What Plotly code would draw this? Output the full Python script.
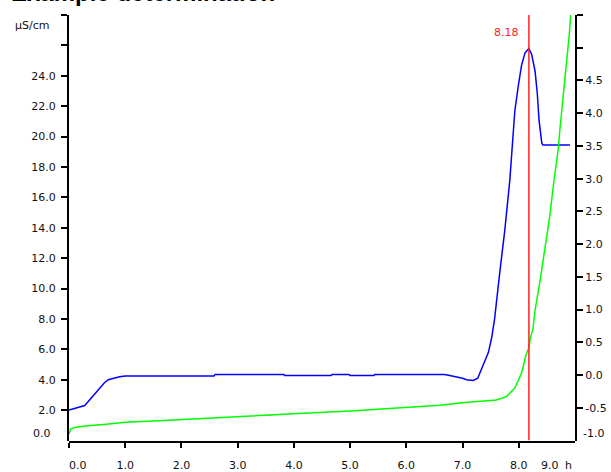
import plotly.graph_objects as go

# ---- data -------------------------------------------------------------
# conductivity (µS/cm, left axis) over time (h)
cond_t = [0.0, 0.1, 0.2, 0.28, 0.35, 0.42, 0.49, 0.56, 0.63, 0.7, 0.78, 0.9, 1.0,
          2.58, 2.6, 3.82, 3.84, 4.66, 4.68, 4.98, 5.0, 5.42, 5.44, 6.68, 6.75,
          6.9, 7.0, 7.07, 7.19, 7.27, 7.37, 7.46, 7.52, 7.57, 7.66, 7.75, 7.84,
          7.88, 7.93, 7.99, 8.05, 8.11, 8.18, 8.23, 8.29, 8.33, 8.36, 8.41, 8.43,
          8.91]
cond_v = [2.0, 2.1, 2.2, 2.3, 2.6, 2.9, 3.2, 3.5, 3.8, 4.0, 4.1, 4.2, 4.25,
          4.25, 4.35, 4.35, 4.27, 4.27, 4.35, 4.35, 4.28, 4.28, 4.35, 4.35, 4.3,
          4.2, 4.1, 4.0, 3.95, 4.1, 5.0, 5.8, 6.8, 8.0, 11.0, 13.8, 17.1,
          19.3, 21.7, 23.3, 24.7, 25.5, 25.8, 25.4, 24.3, 22.8, 21.1, 19.55, 19.45,
          19.45]

# second signal (right axis)
sig_t = [0.0, 0.03, 0.1, 0.28, 0.67, 1.0, 1.6, 2.0, 3.0, 4.0, 5.0, 6.0, 6.6,
         7.04, 7.19, 7.6, 7.78, 7.93, 8.05, 8.13, 8.18, 8.21, 8.25, 8.29, 8.38,
         8.46, 8.55, 8.62, 8.70, 8.73, 8.79, 8.85, 8.90, 8.93]
sig_v = [-0.9, -0.82, -0.8, -0.78, -0.75, -0.72, -0.70, -0.68, -0.64, -0.59,
         -0.55, -0.49, -0.46, -0.42, -0.41, -0.38, -0.33, -0.20, 0.03, 0.31,
         0.42, 0.58, 0.69, 0.99, 1.45, 1.91, 2.42, 2.93, 3.44, 3.74, 4.25, 4.76,
         5.22, 5.6]

endpoint = 8.18

x_ticks = [0, 1, 2, 3, 4, 5, 6, 7, 8, 9]
x_labels = ["0.0", "1.0", "2.0", "3.0", "4.0", "5.0", "6.0", "7.0", "8.0", "9.0"]
left_ticks = [0, 2, 4, 6, 8, 10, 12, 14, 16, 18, 20, 22, 24, 26, 28]
left_labels = ["0.0", "2.0", "4.0", "6.0", "8.0", "10.0", "12.0", "14.0",
               "16.0", "18.0", "20.0", "22.0", "24.0", "", ""]
right_ticks = [-1.0, -0.5, 0.0, 0.5, 1.0, 1.5, 2.0, 2.5, 3.0, 3.5, 4.0, 4.5, 5.0, 5.5]
right_labels = ["-1.0", "-0.5", "0.0", "0.5", "1.0", "1.5", "2.0", "2.5",
                "3.0", "3.5", "4.0", "4.5", "", ""]

# ---- layout geometry ----------------------------------------------------
W, H = 611, 472
ML, MR, MT, MB = 69, 36, 15, 30
PW, PH = W - ML - MR, H - MT - MB


def px(x):
    return (x - ML) / PW


def py(y):
    return (H - MB - y) / PH


FONT = dict(family="DejaVu Sans", size=11, color="#111111")
y_dom = [py(440.5), 1]

fig = go.Figure()
fig.add_trace(go.Scatter(x=cond_t, y=cond_v, mode="lines",
                         line=dict(color="#0000ff", width=1.5), yaxis="y",
                         showlegend=False, hoverinfo="skip"))
fig.add_trace(go.Scatter(x=sig_t, y=sig_v, mode="lines",
                         line=dict(color="#00ff00", width=1.5), yaxis="y2",
                         showlegend=False, hoverinfo="skip"))

fig.add_shape(type="line", x0=endpoint, x1=endpoint, y0=0, y1=28,
              xref="x", yref="y", line=dict(color="#ff2020", width=1.5))

# the bottom tick labels of both axes and the end labels of the x axis sit
# inside the frame, so they are placed as annotations
ann = []
ann.append(dict(x=px(53), y=py(433), xref="paper", yref="paper", text=left_labels[0],
                showarrow=False, xanchor="right", yanchor="middle", font=FONT))
ann.append(dict(x=px(581), y=py(433), xref="paper", yref="paper", text=right_labels[0],
                showarrow=False, xanchor="left", yanchor="middle", font=FONT))
ann.append(dict(x=x_ticks[0], y=py(465), xref="x", yref="paper", text=x_labels[0],
                showarrow=False, xanchor="left", yanchor="middle", xshift=-2, font=FONT))
ann.append(dict(x=x_ticks[-1], y=py(465), xref="x", yref="paper", text=x_labels[-1],
                showarrow=False, xanchor="right", yanchor="middle", xshift=-14, font=FONT))
ann.append(dict(x=px(568), y=py(465.5), xref="paper", yref="paper", text="h",
                showarrow=False, xanchor="center", yanchor="middle", font=FONT))
ann.append(dict(x=px(32), y=py(25), xref="paper", yref="paper", text="µS/cm",
                showarrow=False, xanchor="center", yanchor="middle", font=FONT))
ann.append(dict(x=endpoint, y=py(32), xref="x", yref="paper", text=f"{endpoint:.2f}",
                showarrow=False, xanchor="right", yanchor="middle", xshift=-8,
                font=dict(family="DejaVu Sans", size=11, color="#ff2020")))
ann.append(dict(x=px(9), y=py(8), xref="paper", yref="paper",
                text="<b>Example determination</b>", showarrow=False,
                xanchor="left", yanchor="bottom",
                font=dict(family="Liberation Sans", size=24, color="#000000")))

axis_common = dict(showgrid=False, zeroline=False, showline=True, automargin=False,
                   linecolor="#000000", linewidth=2, ticks="outside",
                   tickcolor="#000000", tickwidth=1.5, tickfont=FONT)

fig.update_layout(
    width=W, height=H,
    margin=dict(l=ML, r=MR, t=MT, b=MB, pad=0, autoexpand=False),
    paper_bgcolor="#ffffff", plot_bgcolor="#ffffff",
    xaxis=dict(range=[0, 9], anchor="free", position=0,
               tickvals=x_ticks[:-1],
               ticktext=[""] + x_labels[1:-1],
               ticklen=5, ticklabelstandoff=8, **axis_common),
    yaxis=dict(range=[0, 28], domain=y_dom, tickvals=left_ticks[1:],
               ticktext=left_labels[1:], ticklen=6, ticklabelstandoff=3,
               **axis_common),
    yaxis2=dict(range=[-1, 5.5], domain=y_dom, overlaying="y", side="right",
                anchor="x", tickvals=right_ticks[1:], ticktext=right_labels[1:],
                ticklen=6, ticklabelstandoff=0, **axis_common),
    annotations=ann,
)

fig.write_html("out.html")
